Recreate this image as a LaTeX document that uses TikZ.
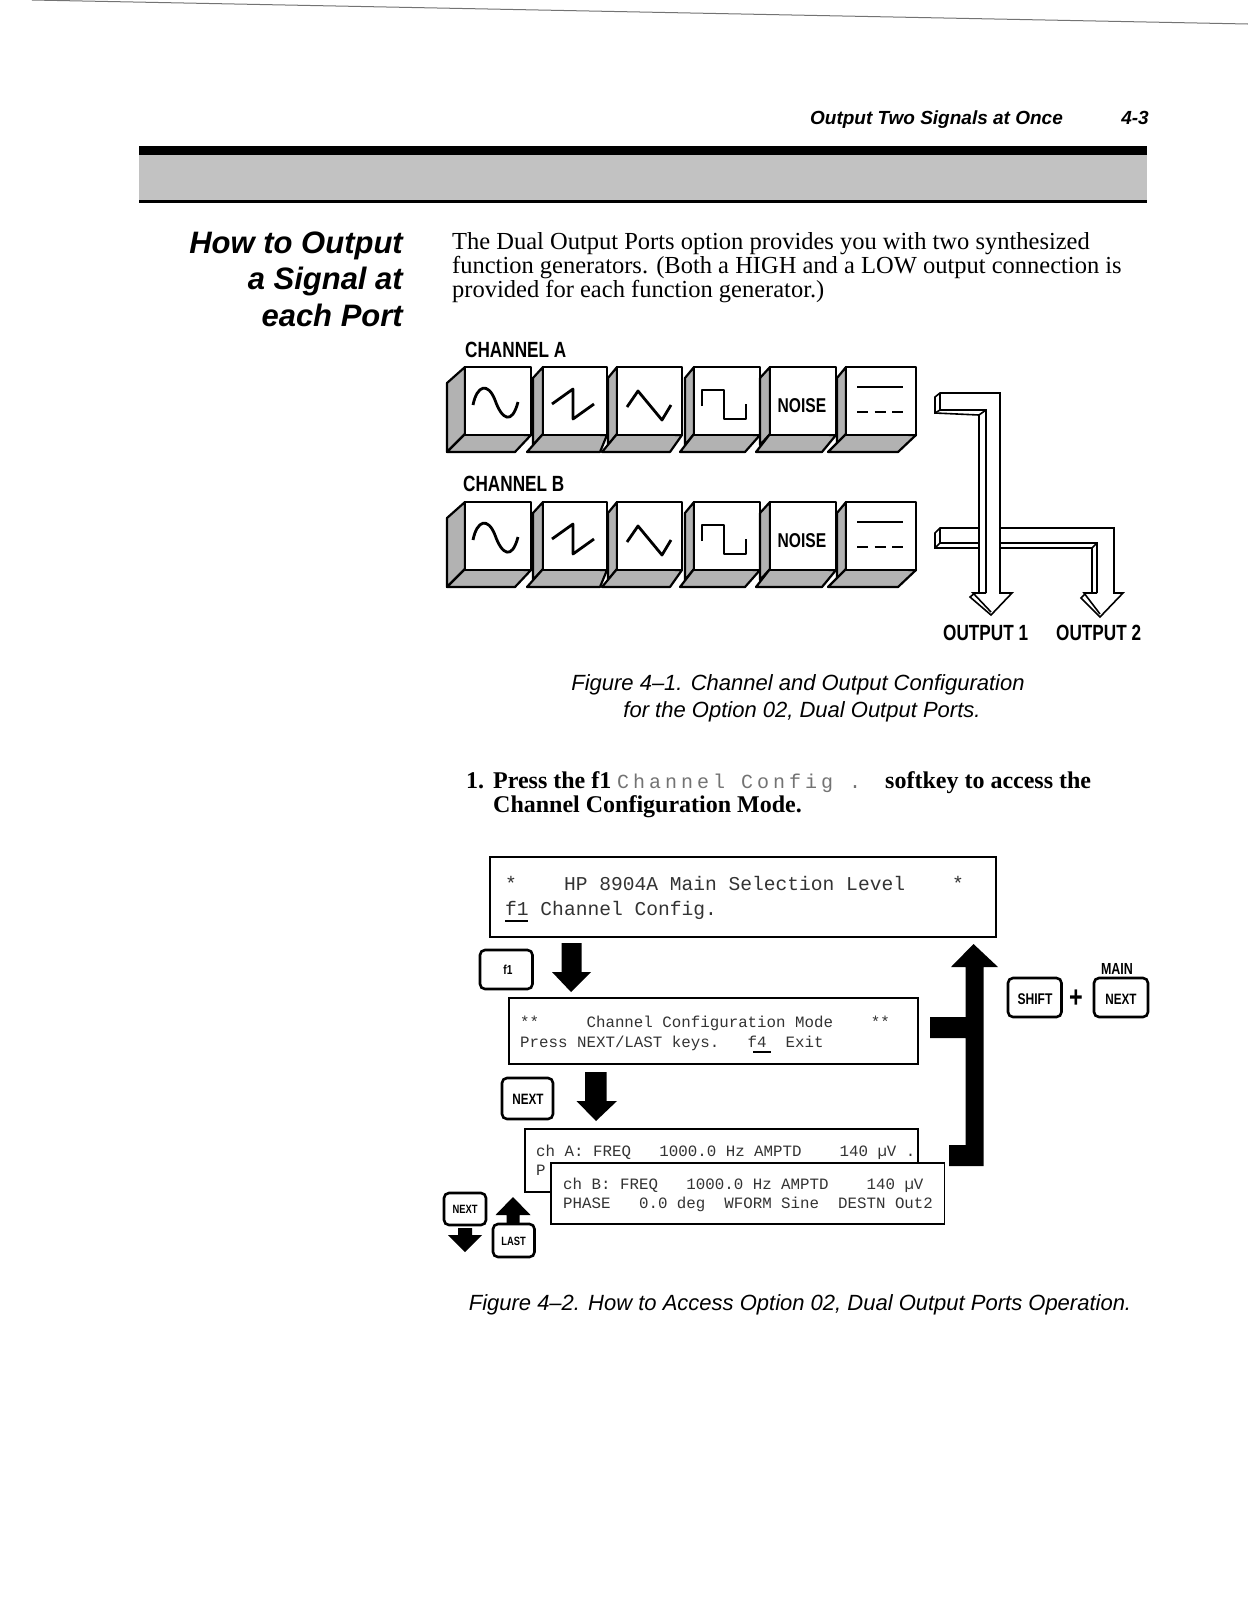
\documentclass[tikz,border=0pt]{standalone}
\usepackage{fontspec}
\setmainfont{Liberation Serif}
\setsansfont{Liberation Sans}
\newfontfamily\condfont[FakeStretch=.78]{Liberation Sans}
\newfontfamily\lcdfont{Liberation Mono}
\newfontfamily\softfont[LetterSpace=20]{Liberation Mono}
\begin{document}
\begin{tikzpicture}[
    x=1pt,y=-1pt,
    txt/.style={inner sep=0pt,anchor=base west},
    txtr/.style={inner sep=0pt,anchor=base east},
    txtc/.style={inner sep=0pt,anchor=base},
    running/.style={font=\sffamily\bfseries\itshape\fontsize{19}{19}\selectfont},
    heading/.style={font=\sffamily\bfseries\itshape\fontsize{31}{31}\selectfont},
    bodytext/.style={font=\fontsize{24.5}{24.5}\selectfont},
    steptext/.style={font=\bfseries\fontsize{24}{24}\selectfont},
    caption/.style={font=\sffamily\itshape\fontsize{22}{22}\selectfont},
    cond/.style={font=\condfont\bfseries\fontsize{22}{22}\selectfont},
    keytext/.style={font=\condfont\bfseries\fontsize{#1}{#1}\selectfont,inner sep=0pt},
    lcdbig/.style={font=\lcdfont\fontsize{19.6}{19.6}\selectfont,text=black!80},
    lcdsmall/.style={font=\lcdfont\fontsize{15.8}{15.8}\selectfont,text=black!80},
    keyface/.style={fill=white,draw=black,line width=2.2pt,line join=round},
    keyside/.style={fill=black!30,draw=black,line width=2.2pt,line join=round},
    glyph/.style={black,line width=2.8pt,line join=round},
    pipe/.style={black,line width=1.6pt,line join=miter},
    lcdbox/.style={fill=white,draw=black,line width=1.6pt},
    softkey/.style={fill=white,draw=black,line width=2.6pt,rounded corners=5pt}
  ]
    \useasboundingbox (0,0) rectangle (1248,1610);

    % Scanned page edge and running head
    \draw[black!55,line width=1pt] (32,0)--(1248,24);
    \node[txtr,running] (hdrtitle) at (1063,124) {Output Two Signals at Once};
    \node[txtr,running] (hdrpage) at (1149,124) {4-3};
    \fill[black!24] (139,155) rectangle (1147,200);
    \fill[black] (139,146) rectangle (1147,155);
    \fill[black] (139,200) rectangle (1147,203);

    % Side heading and first paragraph
    \node[txtr,heading] (howa) at (403,253) {How to Output};
    \node[txtr,heading] (howb) at (403,289) {a Signal at};
    \node[txtr,heading] (howc) at (403,326) {each Port};
    \node[txt,bodytext] (bodya) at (452,249) {The Dual Output Ports option provides you with two synthesized};
    \node[txt,bodytext] (bodyb) at (452,273) {function generators. (Both a HIGH and a LOW output connection is};
    \node[txt,bodytext] (bodyc) at (452,297) {provided for each function generator.)};

    % Channel labels
    \node[txt,cond] (chana) at (465,357) {CHANNEL A};
    \node[txt,cond] (chanb) at (463,491) {CHANNEL B};

    % The two rows of function keys
    \foreach \rowy in {0,135} {
      \begin{scope}[shift={(0,\rowy)}]
        \foreach \fl/\fr/\sl/\st/\sb/\bl/\br in {
            465/531/447/383/452/447/515,
            543/607/533/378/445/527/600,
            617/682/608/378/445/602/670,
            694/760/685/378/445/680/745,
            770/836/760/378/445/756/822,
            846/916/837/378/445/828/898} {
          \draw[keyside] (\fl,367)--(\sl,\st)--(\sl,\sb)--(\fl,434)--cycle;
          \draw[keyside] (\fl,434)--(\bl,452)--(\br,452)--(\fr,435)--cycle;
          \draw[keyface] (\fl,367) rectangle (\fr,435);
        }
        % sine, ramp, triangle, square
        \draw[glyph] (473,405) .. controls (477,385) and (488,382) .. (495,400)
          .. controls (502,420) and (512,425) .. (518,402);
        \draw[glyph] (552,404)--(573,389)--(573,419)--(594,404);
        \draw[glyph] (627,407)--(638,391)--(662,420)--(671,405);
        \draw[glyph] (702,406)--(702,390)--(724,390)--(724,419)--(746,419)--(746,404);
        \node[keytext=20,anchor=base] (noise\rowy) at (802,412) {NOISE};
        % dc
        \draw[glyph] (857,387)--(903,387);
        \draw[glyph,dash pattern=on 11pt off 6.5pt] (857,412)--(903,412);
      \end{scope}
    }

    % Output 2 goes behind output 1
    \draw[pipe,fill=white] (935,533)--(940,528)--(1114,528)--(1114,593)--(1123,593)--(1100,617)
      --(1081,598)--(1086,593)--(1092,593)--(1092,548)--(935,548)--cycle;
    \draw[pipe] (940,528)--(940,543)--(1097,543)--(1097,593);
    \draw[pipe] (1092,548)--(1097,543);
    \draw[pipe] (940,543)--(935,548);
    \draw[pipe] (1097,593)--(1084,593)--(1100,614);

    \draw[pipe,fill=white] (935,397)--(940,393)--(1000,393)--(1000,593)--(1012,593)--(991,615)
      --(970,597)--(975,593)--(979,593)--(979,415)--(935,413)--cycle;
    \draw[pipe] (940,393)--(940,410)--(986,410)--(986,593);
    \draw[pipe] (979,415)--(986,410);
    \draw[pipe] (940,410)--(935,413);
    \draw[pipe] (986,593)--(973,593)--(991,612);

    \node[txt,cond] (outa) at (943,640) {OUTPUT 1};
    \node[txt,cond] (outb) at (1056,640) {OUTPUT 2};

    % Figure captions
    \node[txtc,caption] (figa) at (798,690) {Figure 4--1. Channel and Output Configuration};
    \node[txtc,caption] (figb) at (802,717) {for the Option 02, Dual Output Ports.};
    \node[txtc,caption] (figc) at (800,1310) {Figure 4--2. How to Access Option 02, Dual Output Ports Operation.};

    % Step one
    \node[txt,steptext] (stepnum) at (466,788) {1.};
    \node[txt,steptext] (stepa) at (493,788) {Press the f1};
    \node[txt,font=\softfont\fontsize{20}{20}\selectfont,text=black!55] (stepsoft) at (617,788) {Channel Config .};
    \node[txt,steptext] (stepb) at (885,788) {softkey to access the};
    \node[txt,steptext] (stepc) at (493,812) {Channel Configuration Mode.};

    % Display screens
    \draw[lcdbox] (490,857) rectangle (996,937);
    \node[txt,lcdbig] (maina) at (505,890) {*~~~~HP 8904A Main Selection Level~~~~*};
    \node[txt,lcdbig] (mainb) at (505,915) {f1 Channel Config.};
    \draw[black,line width=1.6pt] (505,921)--(528,921);

    \draw[lcdbox] (509,998) rectangle (918,1064);
    \node[txt,lcdsmall] (confa) at (520,1027) {**~~~~~Channel Configuration Mode~~~~**};
    \node[txt,lcdsmall] (confb) at (520,1047) {Press NEXT/LAST keys.~~~f4~~Exit};
    \draw[black,line width=1.4pt] (753,1052)--(771,1052);

    \draw[lcdbox] (525,1129) rectangle (918,1192);
    \node[txt,lcdsmall] (cha) at (536,1156) {ch A: FREQ~~~1000.0~Hz~AMPTD~~~~140 µV .};
    \node[txt,lcdsmall] (chap) at (536,1175) {P};
    \draw[lcdbox] (551,1163) rectangle (944.5,1224);
    \node[txt,lcdsmall] (chb) at (563,1189) {ch B: FREQ~~~1000.0~Hz~AMPTD~~~~140 µV};
    \node[txt,lcdsmall] (chbp) at (563,1208) {PHASE~~~0.0 deg~~WFORM Sine~~DESTN Out2};

    % Solid flow arrows
    \fill[black] (561.5,943)--(581.5,943)--(581.5,972)--(591,972)--(571,992)--(552,972)--(561.5,972)--cycle;
    \fill[black] (585,1072)--(606.5,1072)--(606.5,1101)--(617,1101)--(596,1121)--(576.5,1101)--(585,1101)--cycle;
    \fill[black] (973.5,944)--(998,967)--(983.5,967)--(983.5,1166)--(949,1166)--(949,1145)--(965.5,1145)
      --(965.5,1038)--(930,1038)--(930,1017)--(965.5,1017)--(965.5,967)--(951,967)--cycle;
    \fill[black] (513,1197)--(530.5,1215)--(519.5,1215)--(519.5,1223)--(506.5,1223)--(506.5,1215)--(495.5,1215)--cycle;
    \fill[black] (458,1228)--(472,1228)--(472,1235)--(482,1235)--(465,1252)--(448,1235)--(458,1235)--cycle;

    % Front panel keys
    \draw[softkey] (480,950) rectangle (532.5,989);
    \node[keytext=13] (keyfone) at (508,970) {f1};
    \draw[softkey] (502,1078) rectangle (553,1119);
    \node[keytext=15] (keynext) at (528,1099) {NEXT};
    \draw[softkey] (444,1193) rectangle (486,1225);
    \node[keytext=12] (keynexts) at (465,1209) {NEXT};
    \draw[softkey] (493,1224) rectangle (534.5,1257);
    \node[keytext=12] (keylast) at (513.5,1241) {LAST};
    \draw[softkey] (1008,978) rectangle (1061.5,1017);
    \node[keytext=15.5] (keyshift) at (1035,999) {SHIFT};
    \node[keytext=30] (plus) at (1076,999) {+};
    \draw[softkey] (1094,978) rectangle (1148,1017);
    \node[keytext=15] (keymain) at (1121,999) {NEXT};
    \node[keytext=16,anchor=base] (mainlab) at (1117,974) {MAIN};
\end{tikzpicture}
\end{document}
